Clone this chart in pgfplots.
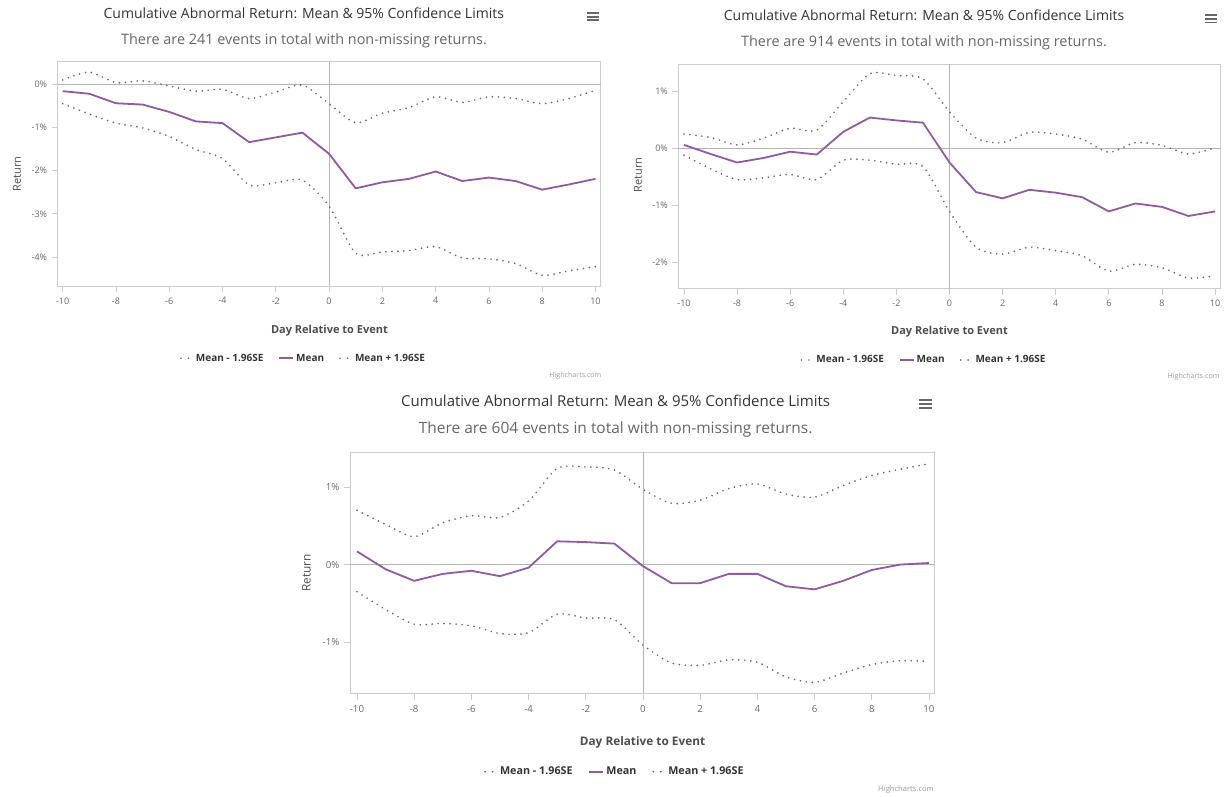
\documentclass[border=0pt]{standalone}
\usepackage{fontspec}
\setmainfont{Open Sans}
\usepackage{pgfplots}
\usepackage{pgfplotstable}
\pgfplotsset{compat=1.18}

\definecolor{meancol}{HTML}{8E5BA0}
\definecolor{cicol}{HTML}{765F80}
\definecolor{framecol}{HTML}{CCCCCC}
\definecolor{zerocol}{HTML}{B4B4B4}
\definecolor{ticktext}{HTML}{666666}
\definecolor{titlecol}{HTML}{333333}
\definecolor{subcol}{HTML}{666666}
\definecolor{labcol}{HTML}{4D4D4D}
\definecolor{legcol}{HTML}{333333}
\definecolor{credcol}{HTML}{999999}
\definecolor{menucol}{HTML}{666666}

\pgfplotstableread{
day lower mean upper
-10 -0.45 -0.16 0.10
-9 -0.69 -0.22 0.28
-8 -0.90 -0.44 0.04
-7 -1.01 -0.47 0.08
-6 -1.21 -0.64 -0.04
-5 -1.51 -0.86 -0.16
-4 -1.72 -0.90 -0.12
-3 -2.33 -1.34 -0.33
-2 -2.28 -1.23 -0.18
-1 -2.22 -1.12 -0.02
0 -2.82 -1.61 -0.45
1 -3.91 -2.41 -0.89
2 -3.88 -2.27 -0.67
3 -3.85 -2.19 -0.54
4 -3.76 -2.02 -0.29
5 -4.02 -2.24 -0.42
6 -4.04 -2.16 -0.29
7 -4.15 -2.24 -0.33
8 -4.42 -2.44 -0.45
9 -4.32 -2.32 -0.33
10 -4.22 -2.19 -0.14
}\chartA

\pgfplotstableread{
day lower mean upper
-10 -0.12 0.06 0.25
-9 -0.36 -0.10 0.19
-8 -0.55 -0.25 0.06
-7 -0.52 -0.17 0.18
-6 -0.46 -0.06 0.35
-5 -0.55 -0.11 0.32
-4 -0.21 0.29 0.82
-3 -0.21 0.54 1.31
-2 -0.28 0.49 1.28
-1 -0.32 0.45 1.22
0 -1.11 -0.25 0.64
1 -1.74 -0.77 0.18
2 -1.86 -0.88 0.10
3 -1.74 -0.73 0.28
4 -1.80 -0.78 0.25
5 -1.89 -0.86 0.16
6 -2.16 -1.11 -0.07
7 -2.04 -0.97 0.10
8 -2.10 -1.03 0.05
9 -2.28 -1.19 -0.10
10 -2.24 -1.11 0.01
}\chartB

\pgfplotstableread{
day lower mean upper
-10 -0.35 0.17 0.70
-9 -0.58 -0.06 0.52
-8 -0.77 -0.21 0.36
-7 -0.76 -0.12 0.54
-6 -0.79 -0.08 0.63
-5 -0.89 -0.15 0.61
-4 -0.88 -0.04 0.82
-3 -0.64 0.30 1.24
-2 -0.69 0.29 1.26
-1 -0.71 0.27 1.22
0 -1.04 -0.02 0.97
1 -1.27 -0.24 0.79
2 -1.30 -0.24 0.83
3 -1.23 -0.12 0.98
4 -1.26 -0.12 1.04
5 -1.45 -0.28 0.91
6 -1.52 -0.32 0.87
7 -1.40 -0.21 1.02
8 -1.29 -0.07 1.15
9 -1.24 0.00 1.23
10 -1.25 0.02 1.30
}\chartC

\pgfplotsset{
  carstyle/.style={
    scale only axis,
    anchor=south west,
    axis line style={framecol, line width=0.8pt},
    tick style={framecol, line width=0.8pt},
    tick align=outside,
    tick pos=left,
    major tick length=6pt,
    xtick={-10,-8,...,10},
    xticklabels={-10,-8,-6,-4,-2,0,2,4,6,8,10},
    tick label style={text=ticktext},
    extra x ticks={0}, extra x tick labels={},
    extra y ticks={0}, extra y tick labels={},
    extra tick style={grid=major, major grid style={draw=zerocol, line width=0.8pt}, major tick length=0pt},
    legend columns=3,
    legend cell align=left,
    legend style={draw=none, fill=none, text=legcol,
      /tikz/column 2/.style={column sep=13pt},
      /tikz/column 4/.style={column sep=13pt}},
  },
  cistyle/.style={cicol, line width=1.9pt, line cap=round, dash pattern=on 0pt off 6pt, smooth, tension=0.45, mark=none,
    legend image code/.code={\draw[cicol, line width=1.9pt, line cap=round, dash pattern=on 0pt off 7.5pt] (0pt,0pt) -- (8pt,0pt); \path (12pt,0pt);}},
  meanstyle/.style={meancol, line width=1.8pt, line join=round, mark=none,
    legend image code/.code={\draw[meancol, line width=1.8pt] (0pt,0pt) -- (14pt,0pt);}},
}

\begin{document}
\begin{tikzpicture}[x=1pt,y=1pt]
\path[use as bounding box] (0,0) rectangle (1224,796);

% ---------- Chart 1 ----------
\begin{axis}[carstyle,
  at={(57.6pt,510pt)}, width=543.2pt, height=224.2pt,
  xmin=-10.19, xmax=10.2, ymin=-4.67, ymax=0.52,
  ytick={-4,-3,-2,-1,0}, yticklabels={-4\%,-3\%,-2\%,-1\%,0\%},
  tick label style={font=\fontsize{9}{10}\selectfont},
  xticklabel style={yshift=-2pt}, yticklabel style={xshift=-1pt},
  legend style={at={(axis description cs:0.5,0)}, anchor=center, xshift=-25.7pt, yshift=-72.3pt,
    font=\bfseries\fontsize{10}{12}\selectfont}]
\addplot[cistyle] table[x=day,y=lower] {\chartA};
\addlegendentry{Mean - 1.96SE}
\addplot[meanstyle] table[x=day,y=mean] {\chartA};
\addlegendentry{Mean}
\addplot[cistyle] table[x=day,y=upper] {\chartA};
\addlegendentry{Mean + 1.96SE}
\end{axis}

% ---------- Chart 2 ----------
\begin{axis}[carstyle,
  at={(678.4pt,507.2pt)}, width=542.2pt, height=224.7pt,
  xmin=-10.21, xmax=10.21, ymin=-2.47, ymax=1.48,
  ytick={-2,-1,0,1}, yticklabels={-2\%,-1\%,0\%,1\%},
  tick label style={font=\fontsize{9}{10}\selectfont},
  xticklabel style={yshift=-2pt}, yticklabel style={xshift=-1pt},
  legend style={at={(axis description cs:0.5,0)}, anchor=center, xshift=-25.5pt, yshift=-71.2pt,
    font=\bfseries\fontsize{10}{12}\selectfont}]
\addplot[cistyle] table[x=day,y=lower] {\chartB};
\addlegendentry{Mean - 1.96SE}
\addplot[meanstyle] table[x=day,y=mean] {\chartB};
\addlegendentry{Mean}
\addplot[cistyle] table[x=day,y=upper] {\chartB};
\addlegendentry{Mean + 1.96SE}
\end{axis}

% ---------- Chart 3 ----------
\begin{axis}[carstyle,
  at={(350.4pt,102.8pt)}, width=584.3pt, height=241pt,
  xmin=-10.23, xmax=10.2, ymin=-1.66, ymax=1.45,
  ytick={-1,0,1}, yticklabels={-1\%,0\%,1\%},
  major tick length=6.5pt,
  tick label style={font=\fontsize{9.7}{11}\selectfont},
  xticklabel style={yshift=-2pt}, yticklabel style={xshift=-1pt},
  legend style={at={(axis description cs:0.5,0)}, anchor=center, xshift=-27.7pt, yshift=-78.5pt,
    font=\bfseries\fontsize{10.75}{13}\selectfont,
    /tikz/column 2/.style={column sep=14pt},
    /tikz/column 4/.style={column sep=14pt}}]
\addplot[cistyle] table[x=day,y=lower] {\chartC};
\addlegendentry{Mean - 1.96SE}
\addplot[meanstyle] table[x=day,y=mean] {\chartC};
\addlegendentry{Mean}
\addplot[cistyle] table[x=day,y=upper] {\chartC};
\addlegendentry{Mean + 1.96SE}
\end{axis}

% ---------- Titles and labels ----------
\begin{scope}[every node/.style={inner sep=0pt}]
% chart 1
\node[anchor=base, text=titlecol, font=\fontsize{14}{16}\selectfont] at (303.8,777) {Cumulative Abnormal Return: Mean \& 95\% Confidence Limits};
\node[anchor=base, text=subcol, font=\fontsize{14.4}{16}\selectfont] at (304,751.3) {There are 241 events in total with non-missing returns.};
\node[anchor=base, text=labcol, font=\bfseries\fontsize{11}{13}\selectfont] at (329.4,462.7) {Day Relative to Event};
\node[anchor=base, rotate=90, text=labcol, font=\fontsize{11}{13}\selectfont] at (20.8,622) {Return};
\node[anchor=base east, text=credcol, font=\fontsize{7.1}{8}\selectfont] at (601.5,418.4) {Highcharts.com};
\foreach \dy in {-3.6,0,3.6} \draw[menucol, line width=1.8pt] (586.5,779.3+\dy) -- (598.5,779.3+\dy);
% chart 2
\node[anchor=base, text=titlecol, font=\fontsize{14}{16}\selectfont] at (924,775.3) {Cumulative Abnormal Return: Mean \& 95\% Confidence Limits};
\node[anchor=base, text=subcol, font=\fontsize{14.4}{16}\selectfont] at (924,749.1) {There are 914 events in total with non-missing returns.};
\node[anchor=base, text=labcol, font=\bfseries\fontsize{11}{13}\selectfont] at (949.5,461) {Day Relative to Event};
\node[anchor=base, rotate=90, text=labcol, font=\fontsize{11}{13}\selectfont] at (641.9,621) {Return};
\node[anchor=base east, text=credcol, font=\fontsize{7.1}{8}\selectfont] at (1219.7,417.4) {Highcharts.com};
\foreach \dy in {-3.6,0,3.6} \draw[menucol, line width=1.8pt] (1204.8,777+\dy) -- (1216.8,777+\dy);
% chart 3
\node[anchor=base, text=titlecol, font=\fontsize{15}{17}\selectfont] at (615.6,389.6) {Cumulative Abnormal Return: Mean \& 95\% Confidence Limits};
\node[anchor=base, text=subcol, font=\fontsize{15.5}{17}\selectfont] at (615.6,362.1) {There are 604 events in total with non-missing returns.};
\node[anchor=base, text=labcol, font=\bfseries\fontsize{11.8}{14}\selectfont] at (642.5,51) {Day Relative to Event};
\node[anchor=base, rotate=90, text=labcol, font=\fontsize{11.8}{14}\selectfont] at (310.5,223.3) {Return};
\node[anchor=base east, text=credcol, font=\fontsize{7.6}{9}\selectfont] at (934,4.2) {Highcharts.com};
\foreach \dy in {-3.9,0,3.9} \draw[menucol, line width=1.9pt] (919.2,392+\dy) -- (932.2,392+\dy);
\end{scope}
\end{tikzpicture}
\end{document}
